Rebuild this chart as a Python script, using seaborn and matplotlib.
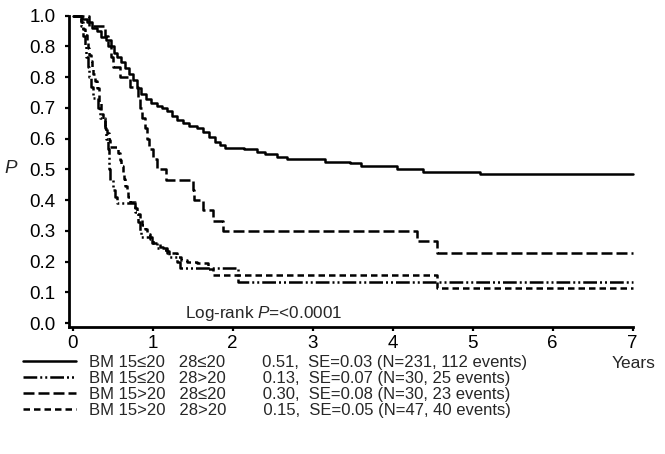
import numpy as np
import pandas as pd
import seaborn as sns
from matplotlib import pyplot as plt

# Kaplan-Meier step curves (time in years, survival P)
t_solid = [0, 0.12, 0.18, 0.24, 0.30, 0.36, 0.42, 0.48, 0.52, 0.56, 0.60, 0.65, 0.70, 0.75,
           0.80, 0.86, 0.92, 0.98, 1.05, 1.12, 1.18, 1.24, 1.30, 1.38, 1.46, 1.55, 1.63, 1.70,
           1.78, 1.84, 1.90, 2.14, 2.30, 2.40, 2.55, 2.68, 3.15, 3.47, 3.61, 4.05, 4.38, 5.09, 7.0]
p_solid = [1.0, 0.99, 0.98, 0.96, 0.95, 0.93, 0.92, 0.90, 0.88, 0.865, 0.85, 0.83, 0.81, 0.79,
           0.765, 0.745, 0.73, 0.715, 0.705, 0.70, 0.69, 0.675, 0.66, 0.65, 0.64, 0.635, 0.62, 0.605,
           0.59, 0.58, 0.57, 0.565, 0.555, 0.55, 0.54, 0.533, 0.525, 0.52, 0.51, 0.50, 0.493, 0.485, 0.485]

t_dashdot = [0, 0.10, 0.13, 0.15, 0.17, 0.19, 0.21, 0.23, 0.26, 0.32, 0.34, 0.40, 0.42, 0.44,
             0.45, 0.46, 0.47, 0.50, 0.53, 0.55, 0.78, 0.82, 0.84, 0.86, 0.99, 1.05, 1.18, 1.21,
             1.30, 1.34, 2.07, 7.0]
p_dashdot = [1.0, 0.967, 0.933, 0.90, 0.867, 0.833, 0.80, 0.767, 0.733, 0.70, 0.667, 0.633, 0.60, 0.567,
             0.533, 0.50, 0.467, 0.433, 0.41, 0.39, 0.36, 0.33, 0.30, 0.28, 0.26, 0.245, 0.235, 0.215,
             0.20, 0.178, 0.133, 0.133]

t_longdash = [0, 0.20, 0.40, 0.44, 0.48, 0.50, 0.59, 0.72, 0.82, 0.84, 0.87, 0.90, 0.925, 0.96,
              1.0, 1.05, 1.17, 1.50, 1.52, 1.63, 1.76, 1.88, 4.30, 4.55, 7.0]
p_longdash = [1.0, 0.967, 0.933, 0.90, 0.867, 0.833, 0.80, 0.767, 0.733, 0.70, 0.667, 0.633, 0.60, 0.567,
              0.533, 0.50, 0.467, 0.433, 0.40, 0.367, 0.333, 0.30, 0.267, 0.228, 0.228]

t_shortdash = [0, 0.10, 0.13, 0.16, 0.18, 0.195, 0.21, 0.23, 0.24, 0.26, 0.28, 0.30, 0.33, 0.35,
               0.36, 0.38, 0.40, 0.43, 0.45, 0.47, 0.57, 0.59, 0.61, 0.63, 0.645, 0.66, 0.68, 0.695,
               0.72, 0.78, 0.81, 0.84, 0.87, 0.90, 0.93, 0.97, 1.01, 1.09, 1.13, 1.175, 1.30, 1.36,
               1.425, 1.55, 1.695, 1.76, 4.55, 7.0]
p_shortdash = [1.0, 0.979, 0.957, 0.936, 0.915, 0.894, 0.872, 0.851, 0.83, 0.809, 0.787, 0.766, 0.72, 0.70,
               0.68, 0.66, 0.64, 0.617, 0.596, 0.574, 0.553, 0.532, 0.51, 0.489, 0.468, 0.447, 0.426, 0.41,
               0.395, 0.375, 0.355, 0.34, 0.32, 0.305, 0.29, 0.275, 0.26, 0.248, 0.237, 0.227, 0.216, 0.205,
               0.20, 0.194, 0.176, 0.155, 0.113, 0.113]

groups = ['BM 15\u226420   28\u226420        0.51,  SE=0.03 (N=231, 112 events)',
          'BM 15\u226420   28>20        0.13,  SE=0.07 (N=30, 25 events)',
          'BM 15>20   28\u226420        0.30,  SE=0.08 (N=30, 23 events)',
          'BM 15>20   28>20        0.15,  SE=0.05 (N=47, 40 events)']

y_ticks = [0.0, 0.1, 0.2, 0.3, 0.4, 0.5, 0.6, 0.7, 0.8, 0.9, 1.0]
y_tick_labels = ['0.0', '0.1', '0.2', '0.3', '0.4', '0.5', '0.6', '0.7', '0.8', '0.8', '1.0']
x_ticks = [0, 1, 2, 3, 4, 5, 6, 7]

frames = []
for g, t, p in zip(groups, [t_solid, t_dashdot, t_longdash, t_shortdash],
                   [p_solid, p_dashdot, p_longdash, p_shortdash]):
    frames.append(pd.DataFrame({'t': t, 'p': p, 'group': g}))
df = pd.concat(frames, ignore_index=True)

sns.set_style("ticks")
plt.rcParams['font.family'] = ['Liberation Sans', 'DejaVu Sans']
plt.rcParams['mathtext.fontset'] = 'custom'
plt.rcParams['mathtext.rm'] = 'Liberation Sans'
plt.rcParams['mathtext.it'] = 'Liberation Sans:italic'

fig = plt.figure(figsize=(6.65, 4.54), dpi=100)
ax = fig.add_axes([0.1042, 0.2804, 0.8472, 0.685])

dashes = {groups[0]: '',
          groups[1]: (5.5, 1.2, 0.8, 1.2, 0.8, 1.2),
          groups[2]: (4.4, 1.6),
          groups[3]: (2.6, 1.6)}
sns.lineplot(data=df, x='t', y='p', style='group', dashes=dashes, color='black',
             estimator=None, sort=False, drawstyle='steps-post', linewidth=1.8,
             legend=False, clip_on=False, ax=ax)

ax.set_xlim(-0.0425, 7)
ax.set_ylim(-0.012, 1.0)
ax.set_xticks(x_ticks)
ax.set_xticklabels([str(x) for x in x_ticks])
ax.set_yticks(y_ticks)
ax.set_yticklabels(y_tick_labels)
ax.tick_params(axis='both', labelsize=13.5, width=1.6, length=3, colors='black')
ax.tick_params(axis='y', pad=7)
ax.tick_params(axis='x', pad=3)
sns.despine(ax=ax)
for s in ['left', 'bottom']:
    ax.spines[s].set_linewidth(2.0)
    ax.spines[s].set_color('black')

ax.set_xlabel('Years', fontsize=12.5, ha='right', va='center')
ax.xaxis.set_label_coords(1.041, -0.117)
ax.set_ylabel('P', fontsize=13.5, style='italic', rotation=0, va='center', ha='center')
ax.yaxis.set_label_coords(-0.1035, 0.51)

ax.text(1.40, 0.031, 'Log-rank $P$=<0.0001', fontsize=12.3, ha='left', va='center',
        bbox=dict(facecolor='white', edgecolor='none', pad=1))

handles = ax.get_lines()[:4]
fig.legend(handles, groups, loc='upper left', bbox_to_anchor=(0.0353, 0.2187),
           frameon=False, fontsize=12, handlelength=3.15, handletextpad=0.78,
           labelspacing=0.07, borderpad=0, borderaxespad=0)

fig.savefig('out.png', dpi=100)
